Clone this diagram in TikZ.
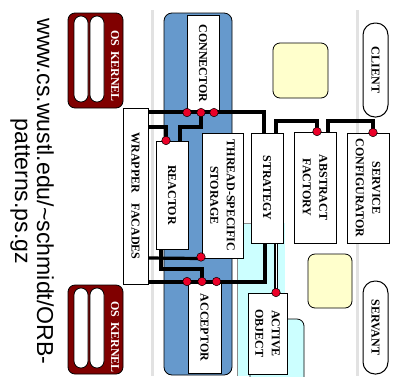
\documentclass[tikz,border=0pt]{standalone}
\usepackage{fontspec}
\setmainfont{Liberation Serif}
\newfontfamily\urlfont{Liberation Sans}
\definecolor{laneblue}{RGB}{102,153,204}
\definecolor{lanecyan}{RGB}{204,255,255}
\definecolor{noteyellow}{RGB}{255,255,204}
\definecolor{kernelred}{RGB}{128,0,0}
\definecolor{dotred}{RGB}{235,0,40}
\definecolor{lanegray}{RGB}{226,226,226}
\begin{document}
\begin{tikzpicture}[x=1pt,y=-1pt,
  box/.style={draw=black, line width=1pt, fill=white, inner sep=0pt},
  pillbox/.style={draw=black, line width=1pt, fill=white, inner sep=0pt, rounded corners=12pt},
  lbl/.style={rotate=-90, font=\bfseries\fontsize{12}{16.5}\selectfont, align=center, inner sep=0pt},
  klbl/.style={rotate=-90, font=\bfseries\fontsize{12}{14}\selectfont, text=white, inner sep=0pt},
  kernelbox/.style={draw=black, line width=0.8pt, fill=kernelred, rounded corners=7pt, inner sep=0pt},
  kpill/.style={draw=black, line width=0.8pt, fill=white, rounded corners=6.9pt, inner sep=0pt, minimum width=14pt},
  notebox/.style={draw=black, line width=0.8pt, fill=noteyellow, rounded corners=7pt, inner sep=0pt},
  conn/.style={draw=black, line width=3.2pt},
  dblconn/.style={draw=black, double=white, double distance=0.7pt, line width=1.4pt},
  dot/.style={circle, draw=black, line width=0.5pt, fill=dotred, minimum size=8.5pt, inner sep=0pt},
  lane/.style={draw=lanegray, line width=3pt},
  urltxt/.style={rotate=-90, font=\urlfont\fontsize{23.1}{22}\selectfont, inner sep=0pt}]
\useasboundingbox (0,0) rectangle (399,376);
\fill[white] (0,0) rectangle (399,376);

% swim-lane dividers
\draw[lane] (152,10) -- (152,376);
\draw[lane] (357,10) -- (357,376);

% blue lane
\node[draw=black, line width=0.8pt, fill=laneblue, rounded corners=8pt, inner sep=0pt,
      minimum width=68pt, minimum height=362pt] (bluelane) at (198,194) {};

% cyan region
\fill[lanecyan] (237,223) rectangle (285,376);
\draw[black!45, line width=0.4pt] (237,376) -- (237,223) -- (251,223);
\draw[fill=lanecyan, line width=0.8pt, rounded corners=7pt] (250,319) rectangle (304,390);

% yellow notes
\node[notebox, minimum width=55pt, minimum height=55pt] (note1) at (300.5,70.5) {};
\node[notebox, minimum width=44pt, minimum height=54pt] (note2) at (330,281) {};

% OS kernels
\node[kernelbox, minimum width=55pt, minimum height=95pt] (kern1) at (95.5,60.5) {};
\node[kpill, minimum height=86pt] (kern1a) at (81,59) {};
\node[kpill, minimum height=86pt] (kern1b) at (97,59) {};
\node[klbl] (kern1t) at (115,66) {OS\hspace{0.4em}KERNEL};
\node[kernelbox, minimum width=55pt, minimum height=89pt] (kern2) at (95.5,329.5) {};
\node[kpill, minimum height=80pt] (kern2a) at (81,328) {};
\node[kpill, minimum height=80pt] (kern2b) at (97,328) {};
\node[klbl] (kern2t) at (115,337) {OS\hspace{0.4em}KERNEL};

% URL
\node[urltxt, anchor=base] (url1) at (37,191.5) {www.cs.wustl.edu/\textasciitilde schmidt/ORB-};
\node[urltxt, anchor=base] (url2) at (15,191.5) {patterns.ps.gz};

% boxes
\node[box, minimum width=32pt, minimum height=97pt] (connector) at (203,63.5) {};
\node[box, minimum width=25pt, minimum height=176pt] (wrapper) at (135.5,196) {};
\node[box, minimum width=32pt, minimum height=108pt] (reactor) at (172,195) {};
\node[box, minimum width=41pt, minimum height=125pt] (tss) at (222.5,195.5) {};
\node[box, minimum width=32pt, minimum height=110pt] (strategy) at (267,188) {};
\node[box, minimum width=42pt, minimum height=111pt] (abstract) at (315,187.5) {};
\node[box, minimum width=42pt, minimum height=110pt] (service) at (368,188) {};
\node[box, minimum width=33pt, minimum height=91pt] (acceptor) at (204.5,327.5) {};
\node[box, minimum width=39pt, minimum height=81pt] (active) at (267.5,333.5) {};
\node[pillbox, minimum width=25pt, minimum height=94pt] (client) at (375.5,70) {};
\node[pillbox, minimum width=25pt, minimum height=93pt] (servant) at (375.5,327.5) {};

\node[lbl] (connector-t) at (connector.center) {CONNECTOR};
\node[lbl] (wrapper-t) at (wrapper.center) {WRAPPER\hspace{0.9em}FACADES};
\node[lbl] (reactor-t) at (reactor.center) {REACTOR};
\node[lbl] (tss-t) at (tss.center) {THREAD-SPECIFIC\\STORAGE};
\node[lbl] (strategy-t) at (strategy.center) {STRATEGY};
\node[lbl] (abstract-t) at (abstract.center) {ABSTRACT\\FACTORY};
\node[lbl] (service-t) at (service.center) {SERVICE\\CONFIGURATOR};
\node[lbl] (acceptor-t) at (acceptor.center) {ACCEPTOR};
\node[lbl] (active-t) at (active.center) {ACTIVE\\OBJECT};
\node[lbl] (client-t) at (client.center) {CLIENT};
\node[lbl] (servant-t) at (servant.center) {SERVANT};

% connectors (top)
\draw[conn] (wrapper.east |- 0,112) -| (264,0 |- strategy.north);
\draw[conn] (wrapper.east |- 0,127) -| (166,0 |- reactor.north);
\draw[conn] (180,0 |- reactor.north) |- (201,127) -- (201,0 |- connector.south);
\draw[conn] (276,0 |- strategy.north) |- (317,121) -- (317,0 |- abstract.north);
\draw[conn] (328,0 |- abstract.north) |- (373,121) -- (373,0 |- service.north);
% connectors (bottom)
\draw[conn] (wrapper.east |- 0,258) -- (201,0 |- tss.south);
\draw[conn] (161,0 |- reactor.south) |- (202,269) -- (202,0 |- acceptor.north);
\draw[conn] (wrapper.east |- 0,282) -| (265,0 |- strategy.south);
\draw[dblconn] (276,0 |- strategy.south) -- (276,0 |- active.north);

% association dots
\node[dot] (dc1) at (187,0 |- connector.south) {};
\node[dot] (dc2) at (201,0 |- connector.south) {};
\node[dot] (dc3) at (214,0 |- connector.south) {};
\node[dot] (dr1) at (166,0 |- reactor.north) {};
\node[dot] (dab) at (317,0 |- abstract.north) {};
\node[dot] (dsv) at (373,0 |- service.north) {};
\node[dot] (dts) at (201,257) {};
\node[dot] (da1) at (187,0 |- acceptor.north) {};
\node[dot] (da2) at (202,0 |- acceptor.north) {};
\node[dot] (da3) at (216.5,0 |- acceptor.north) {};
\node[dot] (dao) at (276,0 |- active.north) {};
\end{tikzpicture}
\end{document}
